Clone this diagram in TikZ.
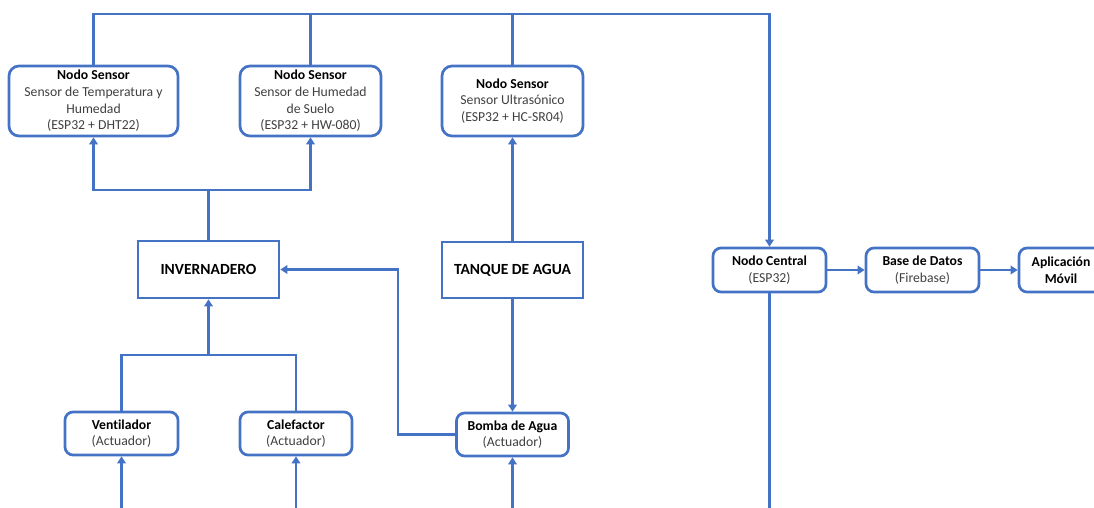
\documentclass[tikz,border=0pt]{standalone}
\usepackage{fontspec}
\setmainfont{Carlito}[Ligatures=NoCommon]
\usetikzlibrary{arrows.meta}
\definecolor{lblue}{HTML}{4472C4}
\definecolor{subtxt}{HTML}{404040}
\begin{document}
\begin{tikzpicture}[x=1pt,y=-1pt,
  conn/.style={draw=lblue,line width=2.7pt},
  arr/.style={conn,-{Triangle[length=7pt,width=8.5pt]}},
  base/.style={draw=lblue,line width=2.7pt,fill=white,inner sep=0pt,align=center,
     font=\fontsize{13.7}{16.7}\selectfont,text=subtxt},
  rbox/.style={base,rounded corners=10pt},
  abox/.style={base,rounded corners=8pt},
  sbox/.style={base,font=\fontsize{15.5}{17}\selectfont\bfseries,text=black}]
\useasboundingbox (0,0) rectangle (1094,507);
\clip (0,0) rectangle (1094,507);
% nodes
\node[rbox,minimum width=169pt,minimum height=70pt] (s1) at (93.5,101)
  {\textbf{\textcolor{black}{Nodo Sensor}}\\Sensor de Temperatura y\\Humedad\\(ESP32 + DHT22)};
\node[rbox,minimum width=141pt,minimum height=70pt] (s2) at (310.5,101)
  {\textbf{\textcolor{black}{Nodo Sensor}}\\Sensor de Humedad\\de Suelo\\(ESP32 + HW-080)};
\node[rbox,minimum width=141pt,minimum height=70pt] (s3) at (512.5,101)
  {\textbf{\textcolor{black}{Nodo Sensor}}\\Sensor Ultrasónico\\(ESP32 + HC-SR04)};
\node[sbox,minimum width=141pt,minimum height=57pt] (inv) at (208.5,269.5) {INVERNADERO};
\node[sbox,minimum width=141pt,minimum height=56pt] (tq) at (512.5,270) {TANQUE DE AGUA};
\node[abox,minimum width=113pt,minimum height=43pt] (ven) at (121.5,433.5)
  {\textbf{\textcolor{black}{Ventilador}}\\(Actuador)};
\node[abox,minimum width=112pt,minimum height=43pt] (cal) at (296,433.5)
  {\textbf{\textcolor{black}{Calefactor}}\\(Actuador)};
\node[abox,minimum width=112pt,minimum height=43pt] (bom) at (512.5,434.5)
  {\textbf{\textcolor{black}{Bomba de Agua}}\\(Actuador)};
\node[abox,minimum width=113pt,minimum height=44pt] (nc) at (769.5,270)
  {\textbf{\textcolor{black}{Nodo Central}}\\(ESP32)};
\node[abox,minimum width=113pt,minimum height=44pt] (bd) at (922.5,270)
  {\textbf{\textcolor{black}{Base de Datos}}\\(Firebase)};
\node[abox,minimum width=84pt,minimum height=44pt] (app) at (1061,270)
  {\textbf{\textcolor{black}{Aplicación}}\\\textbf{\textcolor{black}{Móvil}}};
% coordinates
\coordinate (t1) at (93.5,14);
\coordinate (t4) at (769.5,14);
\coordinate (js) at (208.5,190);
\coordinate (ja) at (208.5,355);
\coordinate (lp) at (398,269.5);
\coordinate (b1) at (121.5,512);
\coordinate (b2) at (296,512);
\coordinate (b3) at (512.5,512);
\coordinate (b4) at (769.5,512);
% connectors
\draw[arr] (s1.north) -- (t1) -- (t4) -- (nc.north);
\draw[conn] (s2.north) -- (s2.north |- t1);
\draw[conn] (s3.north) -- (s3.north |- t1);
\draw[conn] (inv.north) -- (js);
\draw[arr] (js) -| (s1.south);
\draw[arr] (js) -| (s2.south);
\draw[arr] (tq.north) -- (s3.south);
\draw[arr] (tq.south) -- (bom.north);
\draw[arr] (bom.west) -| (lp) -- (inv.east);
\draw[conn] (ven.north) |- (cal.north |- ja) -- (cal.north);
\draw[arr] (ja) -- (inv.south);
\draw[arr] (b1) -- (ven.south);
\draw[arr] (b2) -- (cal.south);
\draw[arr] (b3) -- (bom.south);
\draw[conn] (nc.south) -- (b4);
\draw[arr] (nc.east) -- (bd.west);
\draw[arr] (bd.east) -- (app.west);
\end{tikzpicture}
\end{document}
